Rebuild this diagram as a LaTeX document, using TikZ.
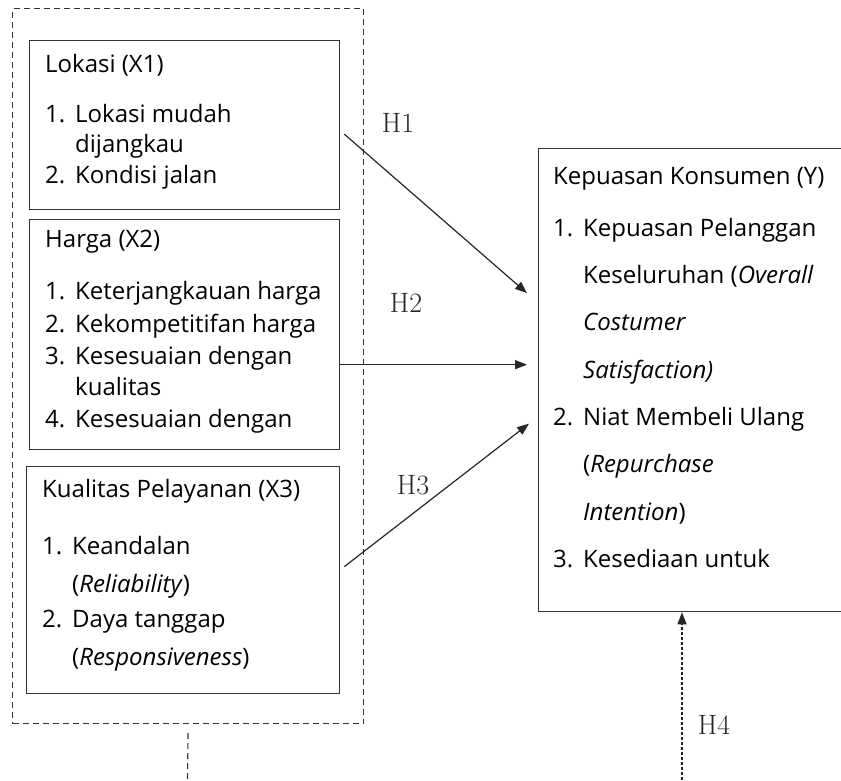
\documentclass[tikz,border=0pt]{standalone}
\usepackage{fontspec}
\setsansfont{Open Sans}
\usetikzlibrary{arrows.meta}
\newcommand{\nr}[1]{\makebox[30pt][l]{#1}}

\begin{document}
\begin{tikzpicture}[x=1pt,y=-1pt,
   box/.style={draw=black!80,line width=1.3pt,anchor=north west,inner sep=0pt},
   txt/.style={anchor=base west,inner sep=0pt,text=black,font=\sffamily\fontsize{24}{28}\selectfont},
   hyp/.style={inner sep=0pt,text=black!85,font=\fontsize{28}{32}\selectfont},
   link/.style={line width=1.2pt,draw=black!85,-{Triangle[length=12pt,width=9pt]}}]

\useasboundingbox (0,0) rectangle (841,780);

% kotak variabel
\node[box,line width=1.1pt,dash pattern=on 6pt off 4pt,minimum width=351pt,minimum height=715pt] (bebas) at (12,8) {};
\node[box,minimum width=310pt,minimum height=169pt] (lokasi) at (29,40) {};
\node[box,minimum width=310pt,minimum height=230pt] (harga) at (29,219) {};
\node[box,minimum width=313pt,minimum height=227pt] (kualitas) at (26,466) {};
\node[box,minimum width=330pt,minimum height=463pt] (kepuasan) at (538,148) {};

% isi kotak
\foreach \x/\y/\t [count=\i] in {45/72/{Lokasi (X1)}, 45/122/{\nr{1.}Lokasi mudah},
    75/152/dijangkau, 45/183/{\nr{2.}Kondisi jalan}}
  \node[txt] (lok\i) at (\x,\y) {\t};
\foreach \x/\y/\t [count=\i] in {45/247/{Harga (X2)}, 45/299/{\nr{1.}Keterjangkauan harga},
    45/332/{\nr{2.}Kekompetitifan harga}, 45/364/{\nr{3.}Kesesuaian dengan},
    75/395/kualitas, 45/427/{\nr{4.}Kesesuaian dengan}}
  \node[txt] (har\i) at (\x,\y) {\t};
\foreach \x/\y/\t [count=\i] in {42/497/{Kualitas Pelayanan (X3)}, 42/554/{\nr{1.}Keandalan},
    72/592/{(\textit{Reliability})}, 42/627/{\nr{2.}Daya tanggap},
    72/665/{(\textit{Responsiveness})}}
  \node[txt] (kua\i) at (\x,\y) {\t};
\foreach \x/\y/\t [count=\i] in {553/184/{Kepuasan Konsumen (Y)}, 553/236/{\nr{1.}Kepuasan Pelanggan},
    583/283/{Keseluruhan (\textit{Overall}}, 583/330/{\textit{Costumer}},
    583/378/{\textit{Satisfaction)}}, 553/425/{\nr{2.}Niat Membeli Ulang},
    583/472/{(\textit{Repurchase}}, 583/520/{\textit{Intention})}, 553/567/{\nr{3.}Kesediaan untuk}}
  \node[txt] (kep\i) at (\x,\y) {\t};

% hipotesis
\draw[link] ([shift={(4,9)}]lokasi.east) -- ([shift={(-11,-87)}]kepuasan.west);
\draw[link] ([shift={(0,30)}]harga.east) -- ([shift={(-11,-15.5)}]kepuasan.west);
\draw[link] ([shift={(4,-13.5)}]kualitas.east) -- ([shift={(-9,43.5)}]kepuasan.west);
\coordinate (moderasi) at (682,780);
\draw[link,dash pattern=on 3pt off 2pt] (moderasi) -- (moderasi |- kepuasan.south);
\coordinate (bawah) at (187.5,780);
\draw[line width=1.1pt,draw=black!80,dash pattern=on 6pt off 4pt] ([yshift=-9pt]bebas.south) -- (bawah);

\node[hyp] (h1) at (398,123) {H1};
\node[hyp] (h2) at (406,303) {H2};
\node[hyp] (h3) at (413,485) {H3};
\node[hyp] (h4) at (714,725) {H4};
\end{tikzpicture}
\end{document}
